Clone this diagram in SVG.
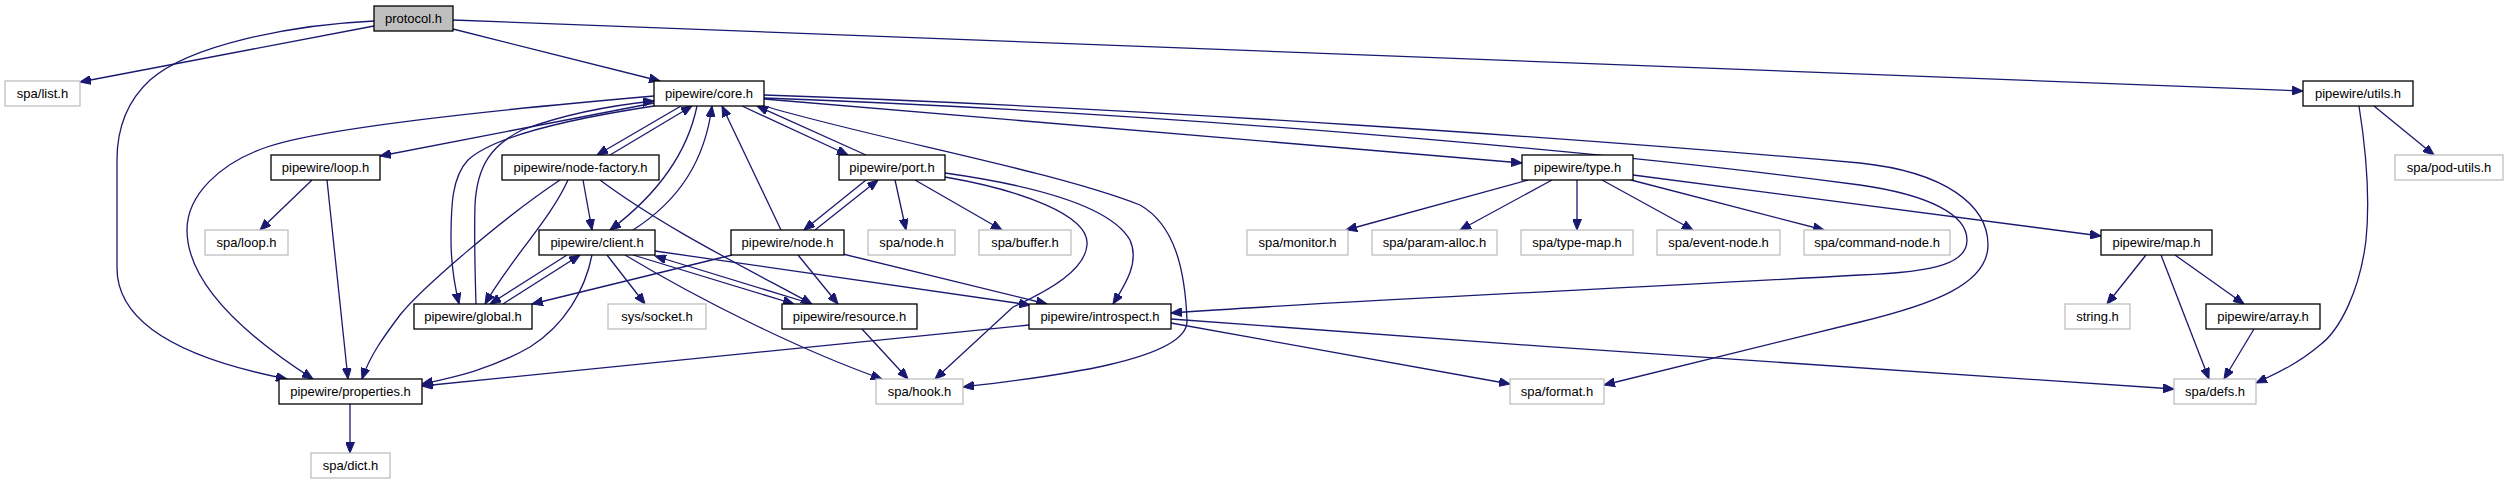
<svg xmlns="http://www.w3.org/2000/svg" width="2507" height="485" viewBox="0 0 2507 485">
<style>
.n rect{fill:#fff;stroke:#000;stroke-width:1.3}
.x rect{fill:#fff;stroke:#bfbfbf;stroke-width:1.3}
.r rect{fill:#bfbfbf;stroke:#000;stroke-width:1.3}
text{font-family:"Liberation Sans",Arial,sans-serif;font-size:13px;text-anchor:middle;fill:#000}
#edges path{fill:none;stroke:#191970;stroke-width:1.3;marker-end:url(#ah)}
</style>
<defs>
<marker id="ah" markerUnits="userSpaceOnUse" viewBox="0 0 12 9" markerWidth="12" markerHeight="9" refX="11" refY="4.5" orient="auto">
<path d="M0,0 L11,4.5 L0,9 z" fill="#191970" stroke="#191970" stroke-width="1"/>
</marker>
</defs>
<rect width="2507" height="485" fill="#fff"/>
<g id="edges">
<path d="M374,26 L80,82"/>
<path d="M374,21 C290,25 190,45 150,80 C125,103 117,130 117,160 L117,268 C117,330 200,362 287,379"/>
<path d="M453,29 L660,81"/>
<path d="M453,20 L2303,91"/>
<path d="M654,103 L380,156"/>
<path d="M654,96 C550,105 330,125 267,147 C220,163 187,195 187,230 C187,290 260,345 313,379"/>
<path d="M654,106 C575,118 495,135 468,160 C452,177 451,205 451,240 C451,262 454,283 459,304"/>
<path d="M476,304 C475,272 474,240 475,205 C477,165 492,145 522,130 C565,114 615,105 654,101"/>
<path d="M681,106 L597,155"/>
<path d="M610,155 L692,106"/>
<path d="M697,106 C690,140 670,185 610,230"/>
<path d="M633,230 C680,200 705,160 712,106"/>
<path d="M781,230 L722,106"/>
<path d="M742,106 L848,155"/>
<path d="M866,155 L757,106"/>
<path d="M764,106 C880,140 1050,170 1140,205 C1175,225 1185,270 1187,320 C1190,360 1050,377 963,387"/>
<path d="M764,99 L1522,163"/>
<path d="M764,98 C1150,112 1600,150 1860,185 C1930,195 1967,215 1967,240 C1967,262 1940,272 1860,275 C1600,290 1350,300 1171,313"/>
<path d="M764,95 C1150,108 1600,140 1860,163 C1945,172 1988,205 1988,245 C1988,285 1930,305 1860,322 L1604,385"/>
<path d="M866,180 L804,230"/>
<path d="M815,230 L878,180"/>
<path d="M895,180 L906,230"/>
<path d="M915,180 L1002,230"/>
<path d="M945,177 C1020,190 1090,215 1087,245 C1085,270 1050,290 1013,307 L935,379"/>
<path d="M945,173 C1030,185 1110,205 1130,240 C1140,262 1125,285 1113,304"/>
<path d="M798,255 L838,304"/>
<path d="M843,254 L1047,304"/>
<path d="M732,255 L532,304"/>
<path d="M560,180 C500,220 420,290 400,315 C385,335 370,355 362,379"/>
<path d="M568,180 C550,220 510,260 485,304"/>
<path d="M583,180 L592,230"/>
<path d="M600,180 C660,225 740,265 812,304"/>
<path d="M567,255 L490,304"/>
<path d="M503,304 L580,255"/>
<path d="M592,255 C585,290 565,325 530,347 C490,370 450,378 422,384"/>
<path d="M607,255 L645,304"/>
<path d="M625,255 C700,300 800,350 882,379"/>
<path d="M633,255 L794,304"/>
<path d="M812,304 L655,256"/>
<path d="M655,251 L1030,305"/>
<path d="M862,329 L908,379"/>
<path d="M1029,325 L422,386"/>
<path d="M1171,323 L1510,384"/>
<path d="M1171,319 C1500,345 1900,370 2174,389"/>
<path d="M1528,180 L1346,230"/>
<path d="M1552,180 L1460,230"/>
<path d="M1577,180 L1577,230"/>
<path d="M1602,180 L1693,230"/>
<path d="M1631,180 L1824,230"/>
<path d="M1633,175 L2101,236"/>
<path d="M2146,255 L2107,304"/>
<path d="M2161,255 L2209,379"/>
<path d="M2175,255 L2244,304"/>
<path d="M2254,329 L2224,379"/>
<path d="M2359,106 C2366,150 2370,200 2366,240 C2360,290 2340,330 2320,345 C2300,362 2280,372 2256,383"/>
<path d="M2374,106 L2434,155"/>
<path d="M312,180 L260,230"/>
<path d="M327,180 L348,379"/>
<path d="M350,404 L350,453"/>
</g>
<g id="protocol" class="r"><rect x="374" y="6" width="79" height="25"/><text x="413.5" y="23">protocol.h</text></g>
<g id="spa-list" class="x"><rect x="5" y="81" width="75" height="25"/><text x="42.5" y="98">spa/list.h</text></g>
<g id="core" class="n"><rect x="654" y="81" width="110" height="25"/><text x="709" y="98">pipewire/core.h</text></g>
<g id="utils" class="n"><rect x="2303" y="81" width="110" height="25"/><text x="2358" y="98">pipewire/utils.h</text></g>
<g id="loop" class="n"><rect x="271" y="155" width="109" height="25"/><text x="325.5" y="172">pipewire/loop.h</text></g>
<g id="node-factory" class="n"><rect x="502" y="155" width="157" height="25"/><text x="580.5" y="172">pipewire/node-factory.h</text></g>
<g id="port" class="n"><rect x="839" y="155" width="106" height="25"/><text x="892" y="172">pipewire/port.h</text></g>
<g id="type" class="n"><rect x="1522" y="155" width="111" height="25"/><text x="1577.5" y="172">pipewire/type.h</text></g>
<g id="spa-pod-utils" class="x"><rect x="2395" y="155" width="108" height="25"/><text x="2449" y="172">spa/pod-utils.h</text></g>
<g id="spa-loop" class="x"><rect x="205" y="230" width="83" height="25"/><text x="246.5" y="247">spa/loop.h</text></g>
<g id="client" class="n"><rect x="539" y="230" width="116" height="25"/><text x="597" y="247">pipewire/client.h</text></g>
<g id="node" class="n"><rect x="731" y="230" width="113" height="25"/><text x="787.5" y="247">pipewire/node.h</text></g>
<g id="spa-node" class="x"><rect x="868" y="230" width="87" height="25"/><text x="911.5" y="247">spa/node.h</text></g>
<g id="spa-buffer" class="x"><rect x="979" y="230" width="92" height="25"/><text x="1025" y="247">spa/buffer.h</text></g>
<g id="spa-monitor" class="x"><rect x="1247" y="230" width="101" height="25"/><text x="1297.5" y="247">spa/monitor.h</text></g>
<g id="spa-param-alloc" class="x"><rect x="1372" y="230" width="125" height="25"/><text x="1434.5" y="247">spa/param-alloc.h</text></g>
<g id="spa-type-map" class="x"><rect x="1521" y="230" width="112" height="25"/><text x="1577" y="247">spa/type-map.h</text></g>
<g id="spa-event-node" class="x"><rect x="1657" y="230" width="123" height="25"/><text x="1718.5" y="247">spa/event-node.h</text></g>
<g id="spa-command-node" class="x"><rect x="1804" y="230" width="146" height="25"/><text x="1877" y="247">spa/command-node.h</text></g>
<g id="map" class="n"><rect x="2101" y="230" width="111" height="25"/><text x="2156.5" y="247">pipewire/map.h</text></g>
<g id="global" class="n"><rect x="414" y="304" width="118" height="25"/><text x="473" y="321">pipewire/global.h</text></g>
<g id="sys-socket" class="x"><rect x="608" y="304" width="98" height="25"/><text x="657" y="321">sys/socket.h</text></g>
<g id="resource" class="n"><rect x="782" y="304" width="135" height="25"/><text x="849.5" y="321">pipewire/resource.h</text></g>
<g id="introspect" class="n"><rect x="1029" y="304" width="142" height="25"/><text x="1100" y="321">pipewire/introspect.h</text></g>
<g id="string" class="x"><rect x="2065" y="304" width="65" height="25"/><text x="2097.5" y="321">string.h</text></g>
<g id="array" class="n"><rect x="2206" y="304" width="114" height="25"/><text x="2263" y="321">pipewire/array.h</text></g>
<g id="properties" class="n"><rect x="279" y="379" width="143" height="25"/><text x="350.5" y="396">pipewire/properties.h</text></g>
<g id="spa-hook" class="x"><rect x="876" y="379" width="87" height="25"/><text x="919.5" y="396">spa/hook.h</text></g>
<g id="spa-format" class="x"><rect x="1510" y="379" width="94" height="25"/><text x="1557" y="396">spa/format.h</text></g>
<g id="spa-defs" class="x"><rect x="2174" y="379" width="82" height="25"/><text x="2215" y="396">spa/defs.h</text></g>
<g id="spa-dict" class="x"><rect x="311" y="453" width="79" height="25"/><text x="350.5" y="470">spa/dict.h</text></g>
</svg>
